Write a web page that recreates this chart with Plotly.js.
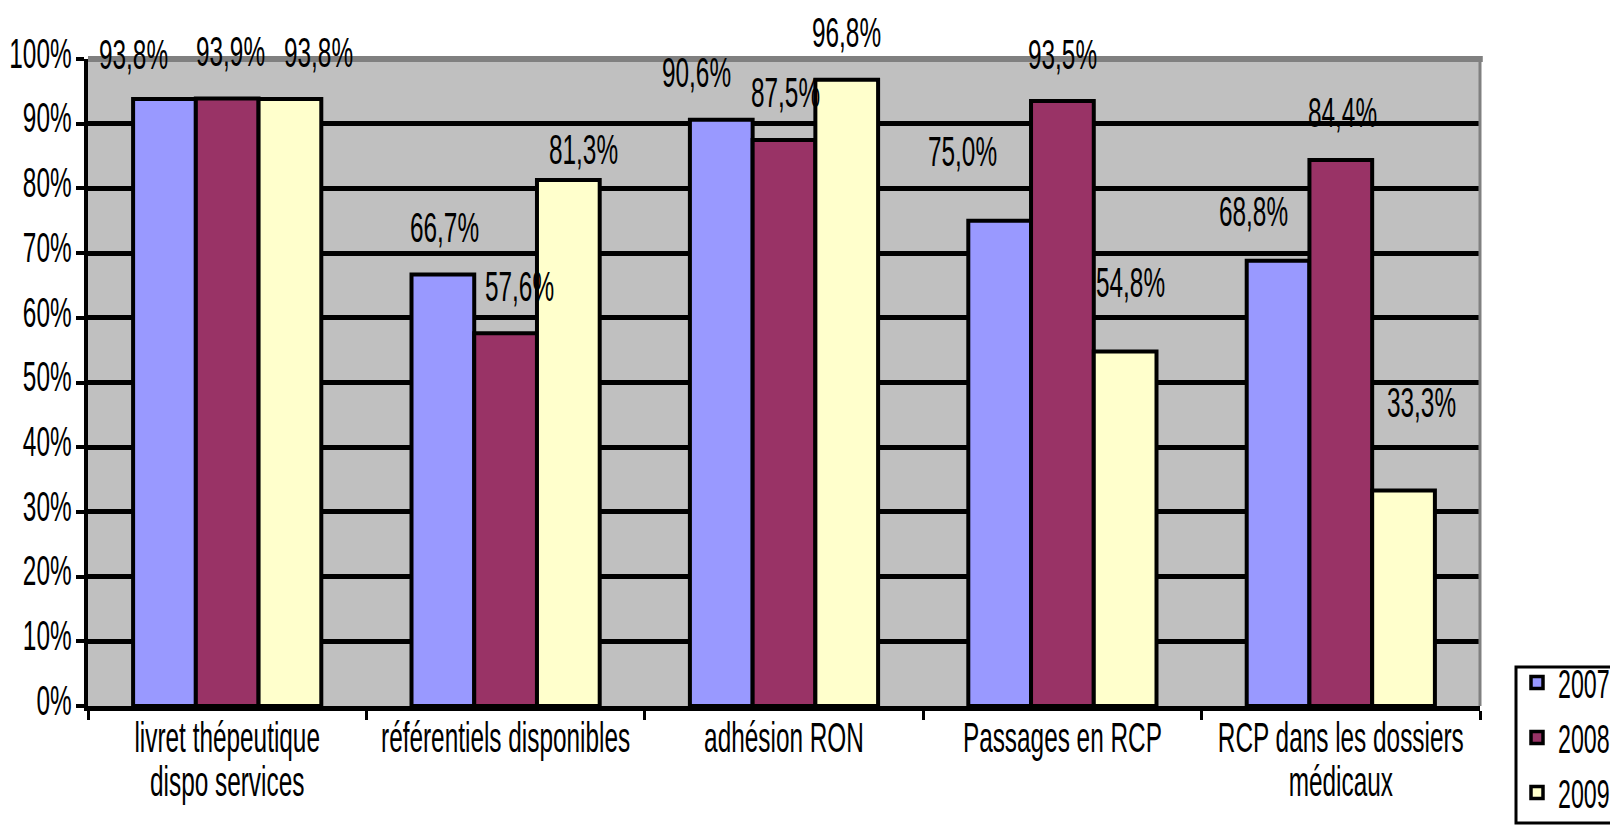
<!DOCTYPE html>
<html>
<head>
<meta charset="utf-8">
<script src="https://cdn.plot.ly/plotly-3.0.1.min.js"></script>
<style>
  html, body { margin: 0; padding: 0; background: #ffffff; }
  #chart { width: 1610px; height: 825px; }
</style>
</head>
<body>
<div id="chart"></div>
<script>
// ---- data ----
const categories = ["livret thépeutique<br>dispo services", "référentiels disponibles", "adhésion RON", "Passages en RCP", "RCP dans les dossiers<br>médicaux"];
const seriesNames = ["2007", "2008", "2009"];
const values2007 = [93.8, 66.7, 90.6, 75.0, 68.8];
const values2008 = [93.9, 57.6, 87.5, 93.5, 84.4];
const values2009 = [93.8, 81.3, 96.8, 54.8, 33.3];
const yTickValues = [0, 10, 20, 30, 40, 50, 60, 70, 80, 90, 100];
const yTickLabels = ["0%", "10%", "20%", "30%", "40%", "50%", "60%", "70%", "80%", "90%", "100%"];

// ---- style ----
const colors = ["#9999FF", "#993366", "#FFFFCC"];
const FONT = "Liberation Sans, Arial, sans-serif";
const SQUEEZE = 0.58;
const W = 1610, H = 825;
const margin = {l: 88, r: 130, t: 59, b: 119};
const bargap = 0.324;
// label nudges (px) to mimic the original label placement
const labelNudgeX = [[-31, 2, -25, -37, -25], [3, 14, 1, 0, 2], [29, 15, 0, 5, 18]];
const labelNudgeY = [[2, 0, 0, -22, -2], [0, 0, 0, 0, 0], [0, 17, 0, -22, -41]];

const allValues = [values2007, values2008, values2009];
const plotW = W - margin.l - margin.r;
const plotH = H - margin.t - margin.b;
const barPx = plotW / categories.length * (1 - bargap) / seriesNames.length;

const traces = allValues.map((vals, k) => ({
  type: "bar",
  name: seriesNames[k],
  x: categories,
  y: vals,
  marker: {color: colors[k], line: {color: "#000000", width: 4}},
  hoverinfo: "none"
}));

const annotations = [];
allValues.forEach((vals, k) => {
  vals.forEach((v, i) => {
    annotations.push({
      x: categories[i], y: v, xref: "x", yref: "y",
      text: v.toFixed(1).replace(".", ",") + "%",
      showarrow: false,
      xanchor: "center", yanchor: "middle",
      xshift: (k - 1) * barPx + labelNudgeX[k][i],
      yshift: 47 - labelNudgeY[k][i],
      font: {family: FONT, size: 42, color: "#000000"}
    });
  });
});

// legend box position in px
const legBox = {x0: 1516, y0: 667, x1: 1640, y1: 823};
const px2x = p => (p - margin.l) / plotW;
const px2y = p => (H - margin.b - p) / plotH;

const layout = {
  width: W, height: H,
  margin: Object.assign({autoexpand: false, pad: 0}, margin),
  paper_bgcolor: "#ffffff",
  plot_bgcolor: "#C0C0C0",
  barmode: "group",
  bargap: bargap,
  bargroupgap: 0,
  font: {family: FONT, size: 40, color: "#000000"},
  showlegend: true,
  legend: {
    x: px2x(1516), xanchor: "left",
    y: px2y(650), yanchor: "top",
    bgcolor: "rgba(0,0,0,0)", borderwidth: 0,
    font: {family: FONT, size: 40, color: "#000000"},
    itemwidth: 32,
    tracegroupgap: 0
  },
  xaxis: {
    type: "category",
    range: [-0.5, categories.length - 0.5],
    autorange: false,
    showline: true, linecolor: "#000000", linewidth: 5,
    ticks: "outside", tickson: "boundaries", ticklen: 9, tickwidth: 3, tickcolor: "#000000",
    tickangle: 0,
    ticklabelstandoff: -9,
    showgrid: false, zeroline: false,
    tickfont: {family: FONT, size: 42, color: "#000000"},
    fixedrange: true
  },
  yaxis: {
    range: [0, 100],
    autorange: false,
    tickmode: "array",
    tickvals: yTickValues,
    ticktext: yTickLabels,
    showline: true, linecolor: "#000000", linewidth: 4,
    ticks: "outside", ticklen: 8, tickwidth: 4, tickcolor: "#000000",
    showgrid: true, gridcolor: "#000000", gridwidth: 5,
    zeroline: false,
    ticklabelshift: -6,
    ticklabelstandoff: -4,
    tickfont: {family: FONT, size: 42, color: "#000000"},
    fixedrange: true
  },
  shapes: [
    {type: "line", xref: "paper", yref: "paper", x0: 0, x1: 1.002, y0: 1, y1: 1, line: {color: "#808080", width: 6}, layer: "above"},
    {type: "line", xref: "paper", yref: "paper", x0: 1, x1: 1, y0: 0, y1: 1, line: {color: "#808080", width: 3}, layer: "above"},
    {type: "rect", xref: "paper", yref: "paper", x0: px2x(legBox.x0), x1: px2x(legBox.x1), y0: px2y(legBox.y1), y1: px2y(legBox.y0),
     line: {color: "#000000", width: 3}, fillcolor: "rgba(0,0,0,0)", layer: "above"}
  ],
  annotations: annotations
};

function squeezeText(gd, s) {
  gd.querySelectorAll("svg text").forEach(t => {
    const x = parseFloat(t.getAttribute("x") || "0");
    const tr = t.getAttribute("transform") || "";
    t.setAttribute("transform", tr + " translate(" + x + ",0) scale(" + s + ",1) translate(" + (-x) + ",0)");
  });
  // tighter line spacing for the two-line category labels
  gd.querySelectorAll("g.xtick text tspan.line").forEach(ts => {
    const dy = ts.getAttribute("dy");
    if (dy && parseFloat(dy) > 0) ts.setAttribute("dy", "1.05em");
  });
  // bolder legend swatches
  gd.querySelectorAll("g.legendpoints path").forEach(p => {
    p.style.strokeWidth = "3.5px";
    p.style.stroke = "#000000";
  });
}

const gd = document.getElementById("chart");
Plotly.newPlot(gd, traces, layout, {displayModeBar: false, staticPlot: true}).then(() => squeezeText(gd, SQUEEZE));
</script>
</body>
</html>
